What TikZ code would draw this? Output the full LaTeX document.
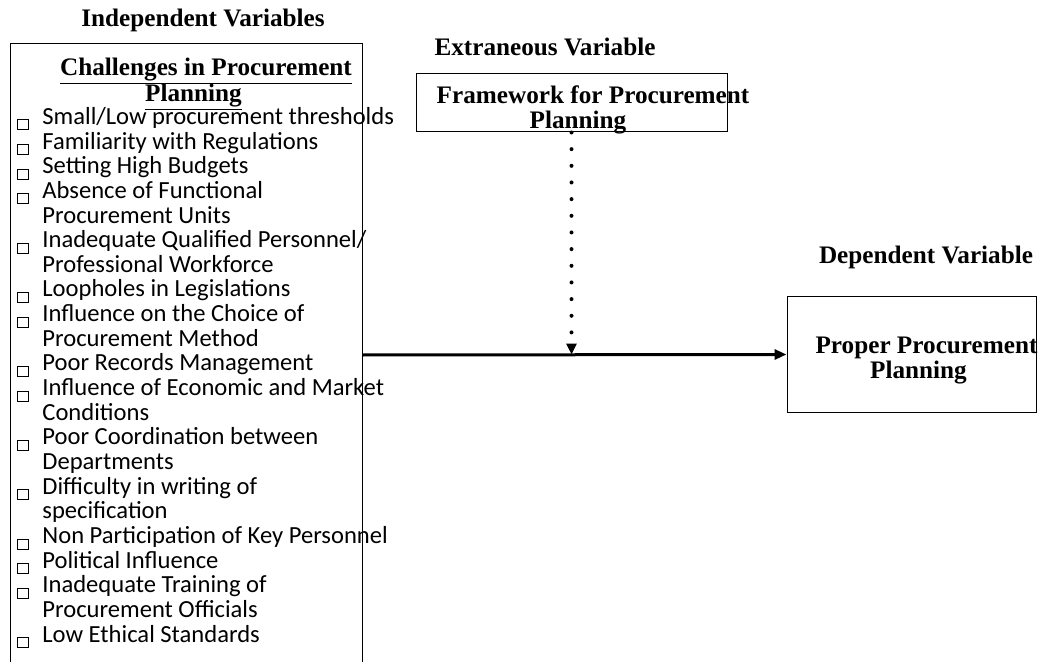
\documentclass[tikz,border=0pt]{standalone}
\usepackage{fontspec}
\setmainfont{Liberation Serif}
\newfontfamily\calibri{Carlito}
\usetikzlibrary{arrows.meta}
\newcommand{\chk}{\raisebox{-2.5pt}{\fboxsep=0pt\fboxrule=0.5pt\fbox{\rule{0pt}{4.5pt}\hspace{5pt}}}}

\begin{document}
\begin{tikzpicture}
[x=0.5pt,y=-0.5pt,
 head/.style={font=\fontsize{12.6}{12.5}\selectfont\bfseries,align=center,inner sep=0pt},
 box/.style={draw,rectangle,line width=0.5pt,inner sep=0pt},
 lst/.style={font=\fontsize{12.3}{12.33}\selectfont\calibri,inner sep=0pt,anchor=north west},
 flow/.style={line width=1.5pt,-{Triangle[length=6pt,width=5pt]}},
 dots/.style={line width=2pt,line cap=round,dash pattern=on 0pt off 8.33pt,-{Triangle[length=5.5pt,width=5pt]}}]
\useasboundingbox (0,0) rectangle (1042,662);
\clip (0,0) rectangle (1042,662);
% Nodes of the diagram

\node(IVh)[head] at (203,20) {Independent Variables};
\node(EVh)[head] at (545,47) {Extraneous Variable};
\node(DVh)[head] at (926,257) {Dependent Variable};

\node(IV)[box,minimum width=176pt,minimum height=311pt] at (186,355) {};
\node(IVt)[head] at (206,84.5) {\underline{Challenges in Procurement}\\[-1.5pt]\underline{Planning}\rule{12.5pt}{0pt}};

\node(IVl)[lst] at (17,106.7) {\begin{tabular}{@{}p{12.5pt}@{}l@{}}
\chk & Small/Low procurement thresholds\\
\chk & Familiarity with Regulations\\
\chk & Setting High Budgets\\
\chk & Absence of Functional\\
     & Procurement Units\\
\chk & Inadequate Qualified Personnel/\\
     & Professional Workforce\\
\chk & Loopholes in Legislations\\
\chk & Influence on the Choice of\\
     & Procurement Method\\
\chk & Poor Records Management\\
\chk & Influence of Economic and Market\\
     & Conditions\\
\chk & Poor Coordination between\\
     & Departments\\
\chk & Difficulty in writing of\\
     & specification\\
\chk & Non Participation of Key Personnel\\
\chk & Political Influence\\
\chk & Inadequate Training of\\
     & Procurement Officials\\
\chk & Low Ethical Standards
\end{tabular}};

\node(FW)[box,minimum width=155.5pt,minimum height=29pt] at (571.5,103) {};
\node(FWt)[head] at (593,110) {Framework for Procurement\\Planning\rule{15pt}{0pt}};

\node(PP)[box,minimum width=124.5pt,minimum height=57.5pt] at (911.5,354.5) {};
\node(PPt)[head] at (926.5,361) {Proper Procurement\\Planning\rule{8pt}{0pt}};

\coordinate (meet) at (FW.south |- PP.west);

\draw[flow] (IV.east) -- (PP.west);
\draw[dots] (FW.south) -- (meet);
\end{tikzpicture}
\end{document}
